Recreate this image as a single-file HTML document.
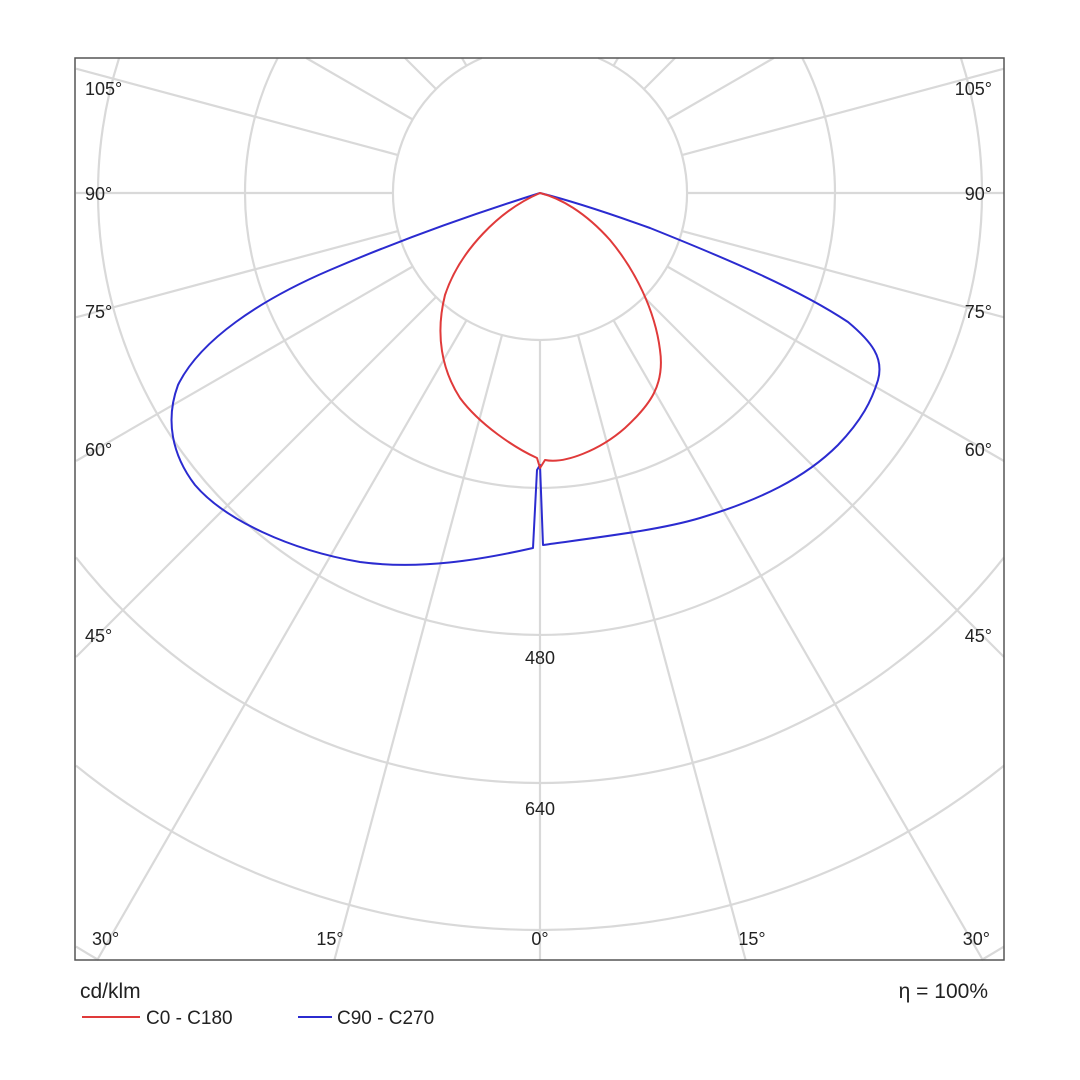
<!DOCTYPE html>
<html><head><meta charset="utf-8"><style>
html,body{margin:0;padding:0;background:#fff;width:1080px;height:1080px;overflow:hidden;}
svg{display:block;font-family:"Liberation Sans","DejaVu Sans",sans-serif;}
</style></head><body>
<svg width="1080" height="1080" viewBox="0 0 1080 1080" xmlns="http://www.w3.org/2000/svg">
<g stroke="#d9d9d9" stroke-width="2.2" fill="none">
<path d="M598.2,58 A147,147 0 1 1 481.8,58"/>
<path d="M802.3,58 A295,295 0 1 1 277.7,58"/>
<path d="M960.9,58 A442,442 0 1 1 119.1,58"/>
<path d="M1004,557.4 A590,590 0 0 1 76,557.4"/>
<path d="M1004,765.6 A737,737 0 0 1 76,765.6"/>
<path d="M1004,946.6 A885,885 0 0 1 981.5,960"/>
<path d="M98.5,960 A885,885 0 0 1 76,946.6"/>
<line x1="540" y1="340" x2="540" y2="960"/>
<line x1="578" y1="335" x2="745.6" y2="960"/><line x1="502" y1="335" x2="334.4" y2="960"/>
<line x1="613.5" y1="320.3" x2="982.8" y2="960"/><line x1="466.5" y1="320.3" x2="97.2" y2="960"/>
<line x1="644" y1="297" x2="1004" y2="657"/><line x1="436" y1="297" x2="76" y2="657"/>
<line x1="667.3" y1="266.5" x2="1004" y2="461"/><line x1="412.7" y1="266.5" x2="76" y2="461"/>
<line x1="682" y1="231" x2="1004" y2="317.3"/><line x1="398" y1="231" x2="76" y2="317.3"/>
<line x1="687" y1="193" x2="1004" y2="193"/><line x1="393" y1="193" x2="76" y2="193"/>
<line x1="682" y1="155" x2="1004" y2="68.7"/><line x1="398" y1="155" x2="76" y2="68.7"/>
<line x1="667.3" y1="119.5" x2="773.8" y2="58"/><line x1="412.7" y1="119.5" x2="306.2" y2="58"/>
<line x1="644" y1="89" x2="675" y2="58"/><line x1="436" y1="89" x2="405" y2="58"/>
<line x1="613.5" y1="65.7" x2="618" y2="58"/><line x1="466.5" y1="65.7" x2="462" y2="58"/>
</g>
<rect x="75" y="58" width="929" height="902" fill="none" stroke="#555" stroke-width="1.5"/>
<path fill="none" stroke="#2b2bd0" stroke-width="2" stroke-linejoin="round" d="M540,193 C470,215 400,240 330,270 C260,300 200,340 178,385 C165,420 172,455 195,485 C225,520 290,550 360,562 C420,570 480,560 533,548 L537,470 L540,465 L543,545 C600,537 660,530 700,518 C760,500 805,478 838,445 C862,420 872,400 878,380 C884,358 872,342 848,322 C800,290 730,260 650,228 C600,210 560,198 540,193 Z"/>
<path fill="none" stroke="#e03a3a" stroke-width="2" stroke-linejoin="round" d="M540,193 C500,210 460,250 445,295 C435,335 442,370 460,398 C480,425 515,448 537,458 L540,468 L545,460 C565,464 600,450 625,428 C650,405 665,385 660,350 C655,310 635,270 610,240 C585,212 560,198 540,193 Z"/>
<g font-size="18" fill="#222">
<text x="85" y="95">105°</text><text x="85" y="200">90°</text><text x="85" y="318">75°</text>
<text x="85" y="456">60°</text><text x="85" y="642">45°</text><text x="92" y="945">30°</text>
<g text-anchor="end"><text x="992" y="95">105°</text><text x="992" y="200">90°</text><text x="992" y="318">75°</text>
<text x="992" y="456">60°</text><text x="992" y="642">45°</text><text x="990" y="945">30°</text></g>
<g text-anchor="middle"><text x="330" y="945">15°</text><text x="540" y="945">0°</text><text x="752" y="945">15°</text>
<text x="540" y="664">480</text><text x="540" y="815">640</text></g>
</g>
<text x="80" y="998" font-size="21" fill="#222">cd/klm</text>
<text x="988" y="998" font-size="21" fill="#222" text-anchor="end">η = 100%</text>
<line x1="82" y1="1017" x2="140" y2="1017" stroke="#e03a3a" stroke-width="2"/>
<text x="146" y="1024" font-size="19" fill="#222">C0 - C180</text>
<line x1="298" y1="1017" x2="332" y2="1017" stroke="#2b2bd0" stroke-width="2"/>
<text x="337" y="1024" font-size="19" fill="#222">C90 - C270</text>
</svg>
</body></html>
